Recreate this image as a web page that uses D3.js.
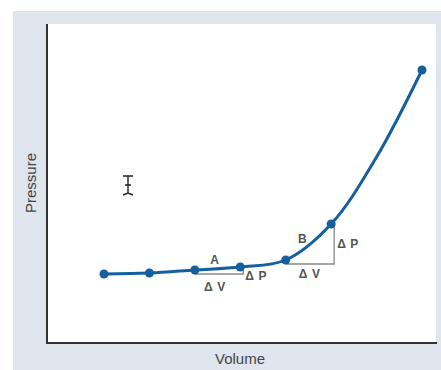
<!DOCTYPE html>
<html><head><meta charset="utf-8">
<script src="https://cdn.jsdelivr.net/npm/d3@7"></script>
<style>body{margin:0;background:#fff}svg{display:block}</style>
</head><body>
<svg id="c" width="441" height="370"></svg>
<script>
const volume = [1, 2, 3, 4, 5, 6, 8];
const pressure = [69, 70, 73, 76, 83, 119, 273];
const curveVolume = [1, 2, 3, 4, 5, 6, 7, 8];
const curvePressure = [69, 70, 73, 76, 83, 119, 186, 273];
const triangles = [{label: "A", from: 2, to: 3}, {label: "B", from: 4, to: 5}];

const svg = d3.select("#c");
svg.append("rect").attr("x", 13).attr("y", 11).attr("width", 428).attr("height", 359).attr("fill", "#dfe5ed");
svg.append("rect").attr("x", 47).attr("y", 24).attr("width", 389).attr("height", 319).attr("fill", "#fff");

const x = d3.scaleLinear().domain([1, 8]).range([104, 422]);
const y = d3.scaleLinear().domain([0, 319]).range([343, 24]);

// axes
svg.append("path").attr("d", "M47,24V343H437").attr("fill", "none").attr("stroke", "#333").attr("stroke-width", 2);

svg.append("text").attr("transform", "translate(36,183) rotate(-90)").attr("text-anchor", "middle")
  .attr("font-family", "Liberation Sans, Arial, sans-serif").attr("font-size", 15).attr("fill", "#444").text("Pressure");
svg.append("text").attr("x", 240).attr("y", 364).attr("text-anchor", "middle")
  .attr("font-family", "Liberation Sans, Arial, sans-serif").attr("font-size", 15).attr("fill", "#444").text("Volume");

// triangles
const g = svg.append("g").attr("font-family", "Liberation Sans, Arial, sans-serif").attr("font-size", 12).attr("font-weight", "bold").attr("fill", "#555").attr("letter-spacing", 0.6);
triangles.forEach(t => {
  const x0 = x(volume[t.from]), y0 = y(pressure[t.from]);
  const x1 = x(volume[t.to]), y1 = y(pressure[t.to]);
  g.append("path").attr("d", `M${x0},${y0 + 4}H${x1 + 3}V${y1}`).attr("fill", "none").attr("stroke", "#888").attr("stroke-width", 1.3);
});
// labels
const A = triangles[0], B = triangles[1];
g.append("text").attr("x", x(volume[A.from]) + 20).attr("y", y(pressure[A.from]) - 6).attr("text-anchor", "middle").text("A");
g.append("text").attr("x", x(volume[A.from]) + 20).attr("y", y(pressure[A.from]) + 21).attr("text-anchor", "middle").text("Δ V");
g.append("text").attr("x", x(volume[A.to]) + 5).attr("y", y(pressure[A.to]) + 13).text("Δ P");
g.append("text").attr("x", x(volume[B.from]) + 17).attr("y", y(pressure[B.from]) - 17).attr("text-anchor", "middle").text("B");
g.append("text").attr("x", x(volume[B.from]) + 24).attr("y", y(pressure[B.from]) + 18).attr("text-anchor", "middle").text("Δ V");
g.append("text").attr("x", x(volume[B.to]) + 6).attr("y", y(pressure[B.to]) + 24).text("Δ P");

// curve
const line = d3.line().x(d => x(d[0])).y(d => y(d[1])).curve(d3.curveCatmullRom);
svg.append("path").datum(curveVolume.map((v, i) => [v, curvePressure[i]])).attr("d", line)
  .attr("fill", "none").attr("stroke", "#14609f").attr("stroke-width", 3);
svg.selectAll("circle.pt").data(volume).enter().append("circle").attr("class", "pt")
  .attr("cx", d => x(d)).attr("cy", (d, i) => y(pressure[i])).attr("r", 4.5).attr("fill", "#14609f");

// I-beam cursor artifact
svg.append("path").attr("d", "M123,176H133M128,176V194M123,195L128,193L133,195M125,185H131")
  .attr("fill", "none").attr("stroke", "#222").attr("stroke-width", 1.4);
</script>
</body></html>
